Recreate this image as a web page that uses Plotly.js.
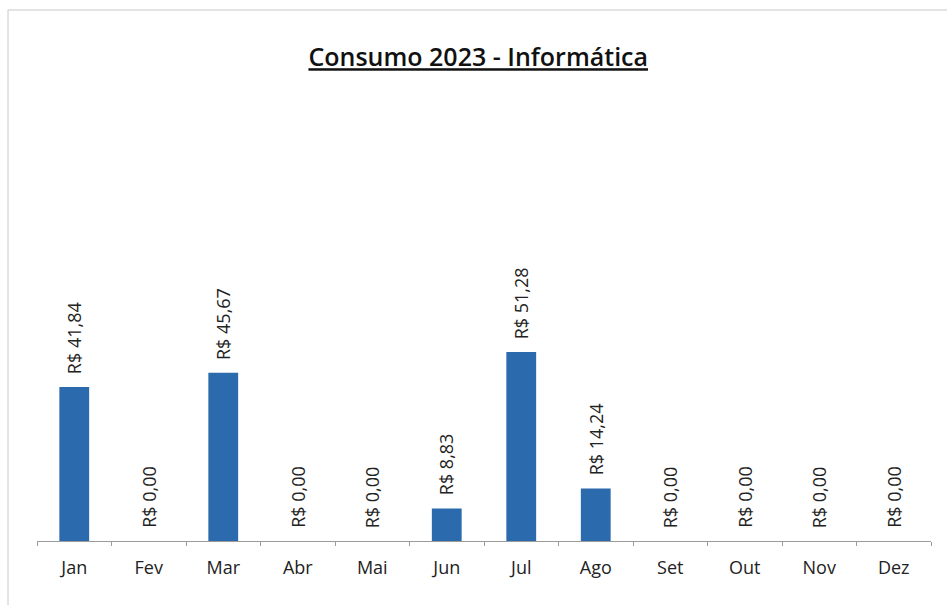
<!DOCTYPE html>
<html>
<head>
<meta charset="utf-8">
<script src="https://cdn.plot.ly/plotly-3.0.1.min.js"></script>
<style>html,body{margin:0;padding:0;background:#fff;}#chart{width:947px;height:605px;}</style>
</head>
<body>
<div id="chart"></div>
<script>
const months = ["Jan","Fev","Mar","Abr","Mai","Jun","Jul","Ago","Set","Out","Nov","Dez"];
const values = [41.84, 0, 45.67, 0, 0, 8.83, 51.28, 14.24, 0, 0, 0, 0];
const labels = ["R$ 41,84","R$ 0,00","R$ 45,67","R$ 0,00","R$ 0,00","R$ 8,83","R$ 51,28","R$ 14,24","R$ 0,00","R$ 0,00","R$ 0,00","R$ 0,00"];

const FONT = "Open Sans, Noto Sans, sans-serif";

const trace = {
  type: "bar",
  x: months,
  y: values,
  marker: {color: "#2a6aad", line: {width: 0}},
  hoverinfo: "none"
};

const annotations = months.map((m, i) => ({
  x: m, y: values[i], xref: "x", yref: "y",
  text: labels[i], textangle: -90, showarrow: false,
  yanchor: "bottom", xanchor: "center", yshift: 11,
  font: {family: FONT, size: 18, color: "#222"}
}));

const layout = {
  width: 947, height: 605,
  margin: {l: 37, r: 16, t: 320, b: 64},
  paper_bgcolor: "#fff", plot_bgcolor: "#fff",
  bargap: 0.6,
  showlegend: false,
  title: {
    text: '<span style="text-decoration:underline">Consumo 2023 - Informática</span>',
    x: 0.505, xanchor: "center", y: 0.905, yanchor: "middle",
    font: {family: FONT, size: 25, color: "#111", weight: 600}
  },
  xaxis: {
    type: "category",
    showline: true, linecolor: "#9a9a9a", linewidth: 1,
    ticks: "outside", tickson: "boundaries", ticklen: 4, tickcolor: "#9a9a9a",
    ticklabelstandoff: 10,
    tickfont: {family: FONT, size: 18, color: "#222"},
    showgrid: false, zeroline: false, fixedrange: true
  },
  yaxis: {
    range: [0, 60], visible: false, showgrid: false, zeroline: false, fixedrange: true
  },
  annotations: annotations,
  shapes: [{
    type: "rect", xref: "paper", yref: "paper",
    x0: (8 - 37) / 894, x1: (960 - 37) / 894,
    y0: (541 - 620) / 221, y1: (541 - 10) / 221,
    line: {color: "#c8c8c8", width: 1}, layer: "below"
  }]
};

Plotly.newPlot("chart", [trace], layout, {displayModeBar: false, staticPlot: true});
</script>
</body>
</html>
